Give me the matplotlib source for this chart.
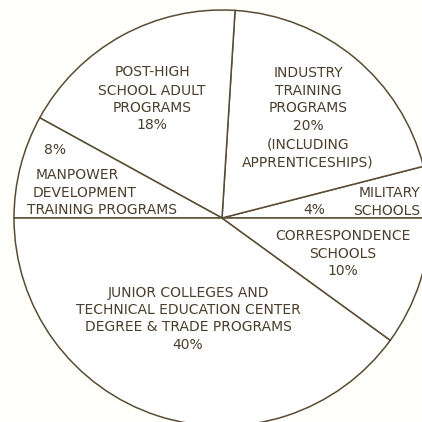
import matplotlib
matplotlib.use("Agg")
import matplotlib.pyplot as plt

# Data (counter-clockwise from 3 o'clock)
categories = ["MILITARY SCHOOLS", "INDUSTRY TRAINING PROGRAMS", "POST-HIGH SCHOOL ADULT PROGRAMS",
              "MANPOWER DEVELOPMENT TRAINING PROGRAMS",
              "JUNIOR COLLEGES AND TECHNICAL EDUCATION CENTER DEGREE & TRADE PROGRAMS",
              "CORRESPONDENCE SCHOOLS"]
values = [4, 20, 18, 8, 40, 10]

LINE = "#5a4c34"
TEXT = "#4a3e2c"
H = 422

fig = plt.figure(figsize=(4.22, 4.22), dpi=100)
fig.patch.set_facecolor("#fefefb")
ax = fig.add_axes([0, 0, 1, 1])

ax.pie(values, startangle=0, counterclock=True, center=(222, H - 218), radius=208,
       colors=["white"] * len(values),
       wedgeprops=dict(edgecolor=LINE, linewidth=1.1), frame=True)
ax.set_xlim(0, 422)
ax.set_ylim(0, 422)
ax.set_aspect("equal")
ax.axis("off")

fs = 10
def t(x, y, s, ha="center"):
    ax.text(x, H - y, s, ha=ha, va="center", fontsize=fs, color=TEXT,
            family="DejaVu Sans", clip_on=False)

# Post-high
for y, s in [(72, "POST-HIGH"), (91, "SCHOOL ADULT"), (108, "PROGRAMS"), (125, "18%")]:
    t(152, y, s)
# Industry
for y, s in [(73, "INDUSTRY"), (91, "TRAINING"), (108, "PROGRAMS"), (126, "20%"),
             (144, "(INCLUDING"), (162, "APPRENTICESHIPS)")]:
    t(308, y, s)
# Manpower
t(55, 150, "8%")
t(77, 175, "MANPOWER")
t(85, 193, "DEVELOPMENT")
t(102, 210, "TRAINING PROGRAMS")
# Military
t(420, 193, "MILITARY", ha="right")
t(420, 211, "SCHOOLS", ha="right")
t(314, 210, "4%")
# Correspondence
for y, s in [(236, "CORRESPONDENCE"), (254, "SCHOOLS"), (271, "10%")]:
    t(343, y, s)
# Junior
for y, s in [(293, "JUNIOR COLLEGES AND"), (310, "TECHNICAL EDUCATION CENTER"),
             (327, "DEGREE & TRADE PROGRAMS"), (345, "40%")]:
    t(188, y, s)

fig.savefig("out.png", dpi=100, facecolor=fig.get_facecolor())
